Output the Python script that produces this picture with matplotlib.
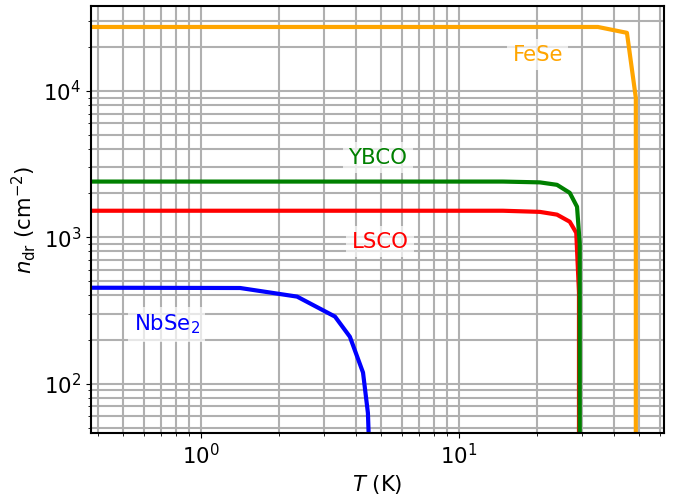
"""Superfluid density vs temperature for several superconductors."""

import matplotlib
matplotlib.use("Agg")
import matplotlib.pyplot as plt

# Curves (T in K, n_dr in cm^-2)
fese_T = [0.375, 34.6, 44.8, 48.5, 48.5]
fese_n = [27300, 27300, 24900, 8960, 40]

ybco_T = [0.375, 14.8, 20.6, 24.0, 26.9, 28.7, 29.4, 29.4]
ybco_n = [2400, 2400, 2370, 2280, 2010, 1615, 900, 40]

lsco_T = [0.375, 14.8, 20.6, 24.0, 26.9, 28.5, 29.2, 29.2]
lsco_n = [1517, 1517, 1490, 1427, 1276, 1072, 420, 40]

nbse_T = [0.375, 1.42, 2.36, 3.31, 3.78, 4.25, 4.44, 4.48]
nbse_n = [452, 450, 393, 287, 209, 119, 63, 40]

plt.rcParams["font.size"] = 15.3

fig, ax = plt.subplots(figsize=(6.79, 4.96), dpi=100)
ax.plot(nbse_T, nbse_n, color="blue", lw=3)
ax.plot(lsco_T, lsco_n, color="red", lw=3)
ax.plot(ybco_T, ybco_n, color="green", lw=3)
ax.plot(fese_T, fese_n, color="orange", lw=3)

ax.set_xscale("log")
ax.set_yscale("log")
ax.set_xlim(0.375, 62.4)
ax.set_ylim(46, 38000)

ax.grid(True, which="both", color="#b0b0b0", lw=1.5)
for s in ax.spines.values():
    s.set_linewidth(1.5)

box = dict(facecolor="white", edgecolor="none", alpha=0.7, pad=4)
ax.text(20.2, 17600, "FeSe", color="orange", ha="center", va="center", bbox=box)
ax.text(4.85, 3490, "YBCO", color="green", ha="center", va="center", bbox=box)
ax.text(4.94, 931, "LSCO", color="red", ha="center", va="center", bbox=box)
ax.text(0.738, 253, "NbSe$_2$", color="blue", ha="center", va="center", bbox=box)

ax.set_xlabel("$T$ (K)")
ax.set_ylabel(r"$n_{\rm dr}$ (cm$^{-2}$)")

fig.subplots_adjust(left=0.134, right=0.978, top=0.988, bottom=0.127)
plt.savefig("out.png", dpi=100)
